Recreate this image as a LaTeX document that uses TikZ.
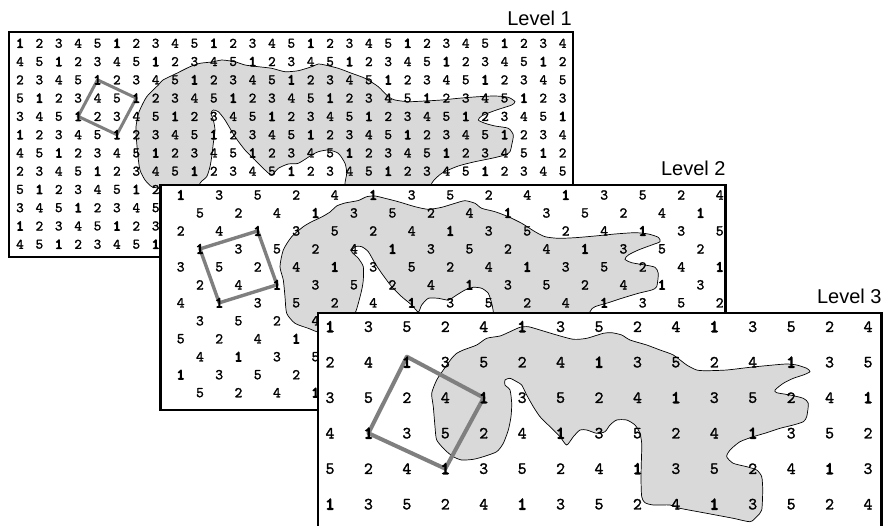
\documentclass[tikz,border=0pt]{standalone}
\usepackage{fontspec}
\newfontfamily\lblfont{Liberation Sans}
\newfontfamily\digfont{lmmono10-regular.otf}[FakeBold=1.6]
\newfontfamily\onefont{lmmono10-regular.otf}[FakeBold=6]
\definecolor{blobgray}{HTML}{D9D9D9}
\definecolor{sqgray}{HTML}{7F7F7F}
\pgfdeclarelayer{Aa}\pgfdeclarelayer{Ab}\pgfdeclarelayer{Ac}
\pgfdeclarelayer{Ba}\pgfdeclarelayer{Bb}\pgfdeclarelayer{Bc}
\pgfdeclarelayer{Ca}\pgfdeclarelayer{Cb}\pgfdeclarelayer{Cc}
\pgfsetlayers{Aa,Ab,Ac,Ba,Bb,Bc,Ca,Cb,Cc,main}
\newcommand\mydig[1]{\ifnum#1=1 {\onefont 1}\else#1\fi}
\tikzset{
  lvlfill/.style={fill=white,draw=none},
  lvlborder/.style={draw=black,line width=2.8pt,line join=miter},
  blobst/.style={draw=black,line width=0.7pt,fill=blobgray},
  sqst/.style={draw=sqgray,line width=#1,line join=round},
  digA/.style={inner sep=0pt,font=\fontsize{14.5}{14.5}\selectfont\digfont},
  digB/.style={inner sep=0pt,font=\fontsize{15}{15}\selectfont\digfont},
  digC/.style={inner sep=0pt,font=\fontsize{17}{17}\selectfont\digfont},
  lvllabel/.style={inner sep=0pt,anchor=base east,font=\lblfont\fontsize{20}{20}\selectfont}
}
\begin{document}
\begin{tikzpicture}[x=1pt,y=-1pt]
\useasboundingbox (0,0) rectangle (886,525);
% ---------------- Level 1 ----------------
\begin{pgfonlayer}{Aa}
  \fill[lvlfill] (9,32) rectangle (573,257);
  \draw[blobst] plot[smooth cycle,tension=0.4] coordinates {
   (158.3,85) (163,80) (176.7,73.3) (190,66.7) (200,63.3) (211.7,62) (221.7,60) (228.3,60.7) (235,61.7) (245,65) (258.3,66.7) (271.7,68.3) (285,71.7) (298.3,70.7) (311.7,66.7) (318.3,64) (325,65) (338.3,68.3) (351.7,73.3) (365,78.3) (378.3,86.7) (388.3,96.7) (395,100) (408.3,101.7) (425,101) (441.7,100) (458.3,98.3) (478.3,96.7) (495,96) (508.3,97.3) (515,101.7) (511.7,105) (501.7,108.3) (491.7,111.7) (481.7,116) (478.3,120) (485,123.3) (495,126) (508.3,128.3) (513.3,135) (511.7,145) (510,151.7) (505,155) (491.7,158.3) (475,161.7) (458.3,166) (441.7,173.3) (431.7,183.3) (428,200) (350,200) (345,185) (346.7,173.3) (345,163.3) (338.3,153.3) (328.3,150) (318.3,151.7) (311.7,155) (298.3,163.3) (288.3,164) (278.3,168.3) (271.7,175) (265,170) (255,160) (245,150) (235,136.7) (225,120) (218.3,111.7) (213.3,110) (211,113.3) (213.3,120) (215,130) (213.3,143.3) (211.7,156.7) (210,166.7) (206.7,176.7) (200,183.3) (195,200) (168,200) (160,189) (151.7,186.7) (145,180) (140,170) (138,156.7) (136.5,140) (136,126.7) (139,112) (146.7,96.7)};
\end{pgfonlayer}
\begin{pgfonlayer}{Ac}
  \foreach \r in {0,...,11}{
    \foreach \c in {0,...,28}{
      \pgfmathtruncatemacro\v{mod(\c+3*\r,5)+1}
      \node[digA] (L1-\r-\c) at ({20+19.38*\c},{43.3+18.27*\r}) {\mydig{\v}};
    }
  }
  \draw[lvlborder] (9,32) rectangle (573,257);
\end{pgfonlayer}
\begin{pgfonlayer}{Ab}
  \draw[sqst=3pt] (L1-2-4.center) -- (L1-3-6.center) -- (L1-5-5.center) -- (L1-4-3.center) -- cycle;
\end{pgfonlayer}
% ---------------- Level 2 ----------------
\begin{pgfonlayer}{Ba}
  \fill[lvlfill] (160.7,185) rectangle (725.7,410);
  \draw[blobst] plot[smooth cycle,tension=0.4] coordinates {
   (303.3,226.7) (311.7,221.7) (321.7,217) (330,212) (336.7,206) (345,203) (358.3,200.5) (366.7,196.7) (375,196) (385,198.3) (398.3,201.7) (415,206.7) (428.3,209.3) (441.7,207.3) (455,203.3) (465,200.7) (475,203.3) (481.7,208.3) (495,211.7) (508.3,216.7) (521.7,223.3) (535,231.7) (545,236.7) (558.3,238.3) (575,237.7) (595,236) (615,234) (635,232.7) (648.3,234) (658.3,237.3) (660,241.7) (651.7,245) (638.3,250) (628.3,255) (625,259.3) (631.7,262.7) (645,265) (655,267.3) (658.3,273.3) (656.7,286.7) (651.7,290) (638.3,293.3) (621.7,298.3) (608.3,302.7) (595,306.7) (590,311.7) (588,330) (495,330) (493.3,311.7) (491.7,303.3) (488.3,293.3) (481.7,288.3) (473.3,287.3) (465,290) (456.7,295) (448.3,300) (438.3,298.3) (428.3,298.3) (421.7,305) (418.3,312) (411.7,305) (401.7,296.7) (391.7,286.7) (381.7,273.3) (375,263.3) (368.3,251.7) (361.7,246.7) (355,246.7) (351.7,251.7) (358.3,258.3) (363.3,266.7) (363.3,280) (361.7,290) (358.3,303.3) (355,313.3) (345,330) (322,333) (308.3,328.3) (295,323.3) (286.7,313.3) (285,296.7) (283.3,280) (280,266.7) (283.3,250) (291.7,236.7)};
\end{pgfonlayer}
\begin{pgfonlayer}{Bc}
  \begin{scope}
    \clip (160.7,185) rectangle (725.7,410);
    \foreach \r in {0,...,11}{
      \foreach \k in {0,...,14}{
        \pgfmathtruncatemacro\j{2*\k+mod(\r,2)}
        \ifnum\j<29
          \pgfmathtruncatemacro\v{mod(\j+3*\r,5)+1}
          \node[digB] (L2-\r-\j) at ({180.7+19.25*\j},{195+17.97*\r}) {\mydig{\v}};
        \fi
      }
    }
  \end{scope}
  \draw[lvlborder] (160.7,185) rectangle (725.7,410);
\end{pgfonlayer}
\begin{pgfonlayer}{Bb}
  \draw[sqst=3.4pt] (L2-3-1.center) -- (L2-2-4.center) -- (L2-5-5.center) -- (L2-6-2.center) -- cycle;
\end{pgfonlayer}
% ---------------- Level 3 ----------------
\begin{pgfonlayer}{Ca}
  \fill[lvlfill] (318,313) rectangle (881.7,545);
  \draw[blobst] plot[smooth cycle,tension=0.4] coordinates {
   (451.7,358.3) (456.7,353.3) (463.3,350) (476.7,345) (486.7,338.3) (500,336) (510,331.7) (520,327.3) (528.3,326.7) (540,330) (556.7,335) (573.3,339.3) (586.7,338.3) (603.3,333.3) (611.7,332.7) (621.7,335) (630,340) (646.7,345) (660,350) (673.3,355) (686.7,365) (696.7,370) (706.7,370.7) (726.7,370) (750,367.3) (773.3,365) (786.7,364) (796.7,365) (806.7,368.3) (810,371.7) (803.3,375) (793.3,378.3) (783.3,383.3) (775,390) (776.7,392.7) (790,395) (803.3,398.3) (808.3,403.3) (806.7,416.7) (803.3,421.7) (793.3,425) (780,428.3) (766.7,432.7) (753.3,436.7) (740,441.7) (730,450) (726.7,456.7) (733.3,463.3) (746.7,466.7) (756.7,470) (761.7,476.7) (762.7,490) (761.7,510) (756.7,516.7) (750,521.7) (733.3,518.3) (706.7,513.3) (680,508.3) (670,505) (653.3,505) (645,502.7) (641.7,496.7) (641,476.7) (641.7,450) (641.7,443.3) (640,433.3) (635,425) (626.7,420) (616.7,420) (610,425) (605,431.7) (596.7,433.3) (586.7,430) (580,430) (573.3,436.7) (566.7,445) (560,436.7) (550,426.7) (540,416.7) (533.3,406.7) (526.7,395) (521.7,385) (516.7,381.7) (510,378.3) (505,380) (505,385) (510,390) (511.7,403.3) (511,416.7) (508.3,430) (503.3,443.3) (496.7,451.7) (483.3,456.7) (473.3,459.3) (461.7,460) (453.3,456.7) (445,450) (436.7,440) (435,426.7) (433.3,406.7) (431.7,393.3) (436.7,380) (443.3,370)};
\end{pgfonlayer}
\begin{pgfonlayer}{Cc}
  \begin{scope}
    \clip (318,313) rectangle (881.7,545);
    \foreach \r in {0,...,5}{
      \foreach \k in {0,...,14}{
        \pgfmathtruncatemacro\v{mod(2*\k+\r,5)+1}
        \node[digC] (L3-\r-\k) at ({330+38.43*\k},{326.7+35.5*\r}) {\mydig{\v}};
      }
    }
  \end{scope}
  \draw[lvlborder] (318,545) -- (318,313) -- (881.7,313) -- (881.7,545);
\end{pgfonlayer}
\begin{pgfonlayer}{Cb}
  \draw[sqst=4pt] (L3-1-2.north) -- (L3-2-4.center) -- (L3-4-3.center) -- (L3-3-1.center) -- cycle;
\end{pgfonlayer}
% ---------------- labels ----------------
\node[lvllabel] (lab1) at (572,25) {Level 1};
\node[lvllabel] (lab2) at (725.7,175) {Level 2};
\node[lvllabel] (lab3) at (881.7,303.5) {Level 3};
\end{tikzpicture}
\end{document}
